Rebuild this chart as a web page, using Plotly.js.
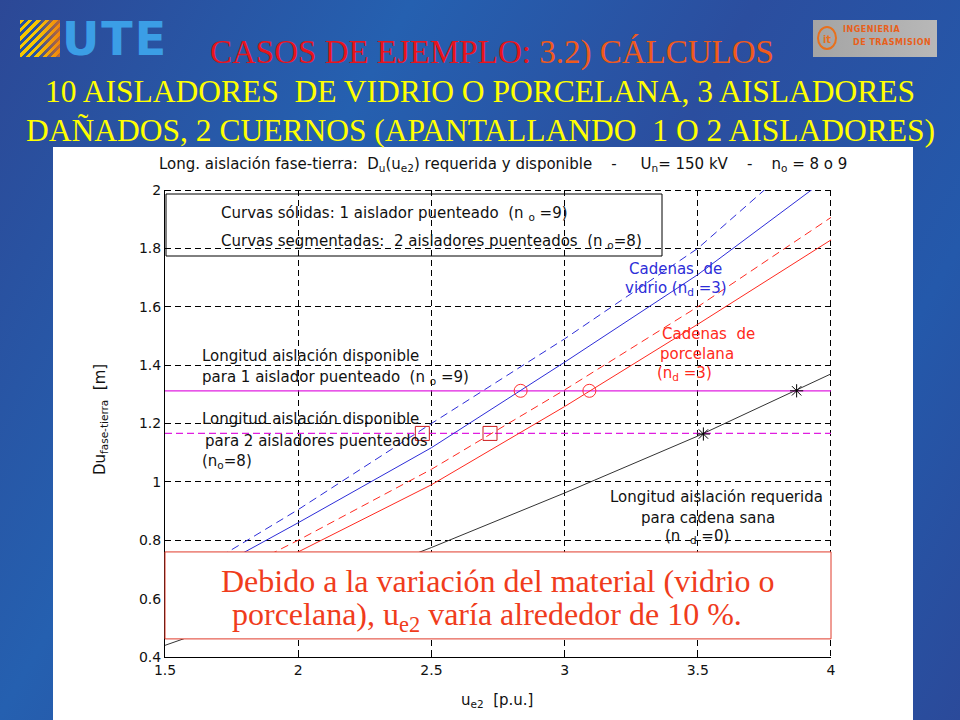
<!DOCTYPE html>
<html>
<head>
<meta charset="utf-8">
<script src="https://cdn.plot.ly/plotly-3.0.1.min.js"></script>
<style>
html,body{margin:0;padding:0;width:960px;height:720px;overflow:hidden;}
body{background:linear-gradient(120deg,#2c4896 0%,#2560b0 30%,#2b4e9f 55%,#2459ab 80%,#2b4a9a 100%);position:relative;font-family:'DejaVu Sans',sans-serif;}
#panel{position:absolute;left:53px;top:147px;width:860px;height:573px;background:#ffffff;}
#edges{position:absolute;left:0;top:0;width:960px;height:720px;}
#chart{position:absolute;left:0;top:0;width:960px;height:720px;}
#stripes{position:absolute;left:20px;top:20px;width:40px;height:37px;
  background:repeating-linear-gradient(135deg,#f6c800 0px,#f6c800 3px,#2452a4 3px,#2452a4 6px);}
#stripes2{position:absolute;left:20px;top:20px;width:40px;height:37px;background:linear-gradient(90deg,rgba(0,0,0,0) 40%,rgba(240,110,20,0.75) 100%);}
#ute{position:absolute;left:62px;top:12px;font:bold 46px 'DejaVu Sans',sans-serif;color:#3b9ee6;letter-spacing:2px;}
#it{position:absolute;left:813px;top:20px;width:124px;height:37px;background:linear-gradient(90deg,#a4a4a4,#b8b8b8);}
#itc{position:absolute;left:4px;top:6px;width:20px;height:24px;border:2px solid #e8701c;border-radius:50%;font:bold 10px 'DejaVu Sans';color:#e8701c;text-align:center;line-height:24px;box-sizing:border-box;}
#it1{position:absolute;left:30px;top:5px;font:bold 8px 'DejaVu Sans';color:#e8601a;letter-spacing:0.5px;}
#it2{position:absolute;left:40px;top:18px;font:bold 8px 'DejaVu Sans';color:#e8601a;letter-spacing:0.5px;}
</style>
</head>
<body>
<div id="panel"></div>
<div id="stripes"></div><div id="stripes2"></div>
<div id="ute">UTE</div>
<div id="it"><div id="itc">it</div><div id="it1">INGENIERIA</div><div id="it2">DE TRASMISION</div></div>
<svg id="edges" width="960" height="720" xmlns="http://www.w3.org/2000/svg">
  <line x1="165" y1="190.5" x2="831" y2="190.5" stroke="#000" stroke-width="1" stroke-dasharray="6,4"/>
  <line x1="830.5" y1="190" x2="830.5" y2="657" stroke="#000" stroke-width="1" stroke-dasharray="6,4"/>
</svg>
<div id="chart"></div>
<script>
// ---- data ----
const ue2 = [1.5, 2.0, 2.5, 3.0, 3.5, 4.0];
const vidrioNo8 = [0.63, 0.905, 1.20, 1.49, 1.80, 2.20];     // blue dashed
const vidrioNo9 = [0.61, 0.86, 1.117, 1.41, 1.71, 2.05];     // blue solid
const porcelanaNo8 = [0.57, 0.80, 1.043, 1.315, 1.60, 1.906]; // red dashed
const porcelanaNo9 = [0.54, 0.76, 0.99, 1.258, 1.54, 1.829];  // red solid
const sana = [0.44, 0.60, 0.775, 0.962, 1.157, 1.37];         // black
const xRange = [1.5, 4.0];
const yRange = [0.4, 2.0];
const dispNo9 = 1.312;   // available length, 1 insulator bridged
const dispNo8 = 1.166;   // available length, 2 insulators bridged
const circX = [2.835, 3.093], circY = [1.312, 1.312];
const sqX = [2.466, 2.72], sqY = [1.166, 1.166];
const starX = [3.521, 3.871], starY = [1.164, 1.312];
const xTicks = [1.5, 2, 2.5, 3, 3.5, 4];
const yTicks = [0.4, 0.6, 0.8, 1, 1.2, 1.4, 1.6, 1.8, 2];
const noteBox = [0.462, 0.76];   // vertical extent of the note box (data units)

// ---- geometry helpers (pixel -> paper) ----
const L = 165, R = 831, T = 190, B = 657;
const px = x => (x - L) / (R - L);
const py = y => (B - y) / (B - T);
const dy = v => (v - yRange[0]) / (yRange[1] - yRange[0]);
const S = '\u00a0';
const sp = n => S.repeat(n);

const BLUE = '#2d2dd8', RED = '#ff2a20', MAG = '#e01ee0';
const chartFont = 'DejaVu Sans, sans-serif';

const traces = [
  {x: ue2, y: sana, mode: 'lines', line: {color: '#333333', width: 1}},
  {x: xRange, y: [dispNo9, dispNo9], mode: 'lines', line: {color: MAG, width: 1.2}},
  {x: xRange, y: [dispNo8, dispNo8], mode: 'lines', line: {color: MAG, width: 1.2, dash: '7px,4px'}},
  {x: ue2, y: porcelanaNo9, mode: 'lines', line: {color: RED, width: 1}},
  {x: ue2, y: porcelanaNo8, mode: 'lines', line: {color: RED, width: 1, dash: '8px,5px'}},
  {x: ue2, y: vidrioNo9, mode: 'lines', line: {color: BLUE, width: 1}},
  {x: ue2, y: vidrioNo8, mode: 'lines', line: {color: BLUE, width: 1, dash: '8px,5px'}},
  {x: circX, y: circY, mode: 'markers', marker: {symbol: 'circle-open', size: 13, color: '#ff3030', line: {width: 1, color: '#ff3030'}}},
  {x: sqX, y: sqY, mode: 'markers', marker: {symbol: 'square-open', size: 14, color: '#cc1e1e', line: {width: 1, color: '#cc1e1e'}}},
  {x: starX, y: starY, mode: 'markers', marker: {symbol: 'asterisk-open', size: 11, color: '#000', line: {width: 1, color: '#000'}}}
];

function ann(text, x, y, opts) {
  opts = opts || {};
  return Object.assign({
    text: text, xref: 'paper', yref: 'paper', x: px(x), y: py(y),
    xanchor: opts.anchor || 'left', yanchor: 'middle', showarrow: false,
    font: {family: opts.family || chartFont, size: opts.size || 15, color: opts.color || '#111'},
    align: opts.align || 'left'
  }, opts.extra || {});
}

const annotations = [
  // slide titles
  ann('<span style="color:#e8141c">CASOS DE EJEMPLO:</span> <span style="color:#f05a1c">3.2) CÁLCULOS</span>', 492, 52,
      {anchor: 'center', family: 'Liberation Serif, serif', size: 33, color: '#e8141c'}),
  ann('10 AISLADORES' + S + ' DE VIDRIO O PORCELANA, 3 AISLADORES', 480, 92,
      {anchor: 'center', family: 'Liberation Serif, serif', size: 31.5, color: '#ffff00'}),
  ann('DAÑADOS, 2 CUERNOS (APANTALLANDO' + S + ' 1 O 2 AISLADORES)', 480, 131,
      {anchor: 'center', family: 'Liberation Serif, serif', size: 31.5, color: '#ffff00'}),
  // chart title
  ann('Long. aislación fase-tierra:' + sp(2) + 'D<sub>u</sub>(u<sub>e2</sub>) requerida y disponible' + sp(4) + '-' + sp(5) + 'U<sub>n</sub>= 150 kV' + sp(4) + '-' + sp(4) + 'n<sub>o</sub> = 8 o 9', 157, 164, {size: 15}),
  // legend box text
  ann('Curvas sólidas: 1 aislador puenteado' + S + ' (n' + S + '<sub>o</sub> =9)', 219, 213),
  ann('Curvas segmentadas:' + S + ' 2 aisladores puenteados' + S + ' (n' + S + '<sub>o</sub>=8)', 219, 241),
  // glass strings
  ann('Cadenas' + S + ' de', 627, 269, {color: BLUE}),
  ann('vidrio (n<sub>d</sub> =3)', 623, 288, {color: BLUE}),
  // porcelain strings
  ann('Cadenas' + S + ' de', 660, 334, {color: RED}),
  ann('porcelana', 658, 354, {color: RED}),
  ann('(n<sub>d</sub> =3)', 655, 373, {color: RED}),
  // available lengths
  ann('Longitud aislación disponible', 200, 356),
  ann('para 1 aislador puenteado' + S + ' (n' + S + '<sub>o</sub> =9)', 200, 377),
  ann('Longitud aislación disponible', 200, 419),
  ann('para 2 aisladores puenteados', 203, 441),
  ann('(n<sub>o</sub>=8)', 200, 461),
  // required length
  ann('Longitud aislación requerida', 716, 497, {anchor: 'center'}),
  ann('para cadena sana', 708, 518, {anchor: 'center'}),
  ann('(n' + sp(2) + '<sub>d</sub> =0)', 697, 536, {anchor: 'center'}),
  // axis titles
  ann('u<sub>e2</sub>' + S + ' [p.u.]', 497, 700, {anchor: 'center'}),
  Object.assign(ann('Du<sub>fase-tierra</sub>' + S + ' [m]', 100, 420, {anchor: 'center'}), {textangle: -90}),
  // message box
  ann('Debido a la variación del material (vidrio o', 498, 581,
      {anchor: 'center', family: 'Liberation Serif, serif', size: 32, color: '#f03c1c'}),
  ann('porcelana), u<sub>e2</sub> varía alrededor de 10 %.', 487, 616,
      {anchor: 'center', family: 'Liberation Serif, serif', size: 32, color: '#f03c1c'})
];

const shapes = [
  {type: 'rect', xref: 'paper', yref: 'paper', x0: px(166), x1: px(662), y0: py(256), y1: py(194),
   line: {color: '#000', width: 1}, fillcolor: 'rgba(0,0,0,0)', layer: 'above'},
  {type: 'rect', xref: 'paper', yref: 'paper', x0: 0, x1: 1, y0: dy(noteBox[0]), y1: dy(noteBox[1]),
   line: {color: '#e03a2a', width: 1}, fillcolor: '#ffffff', layer: 'above'}
];

const axisCommon = {
  showgrid: true, gridcolor: '#000', gridwidth: 1, griddash: '6px,4px',
  showline: true, linecolor: '#000', linewidth: 1, mirror: false,
  ticks: 'inside', ticklen: 5, tickcolor: '#000', zeroline: false,
  tickfont: {family: chartFont, size: 14, color: '#111'}
};

const layout = {
  width: 960, height: 720,
  margin: {l: L, r: 960 - R, t: T, b: 720 - B, pad: 0},
  paper_bgcolor: 'rgba(0,0,0,0)', plot_bgcolor: 'rgba(0,0,0,0)',
  showlegend: false,
  xaxis: Object.assign({}, axisCommon, {range: xRange, tickvals: xTicks}),
  yaxis: Object.assign({}, axisCommon, {range: yRange, tickvals: yTicks}),
  annotations: annotations,
  shapes: shapes
};

Plotly.newPlot('chart', traces, layout, {displayModeBar: false});
</script>
</body>
</html>
